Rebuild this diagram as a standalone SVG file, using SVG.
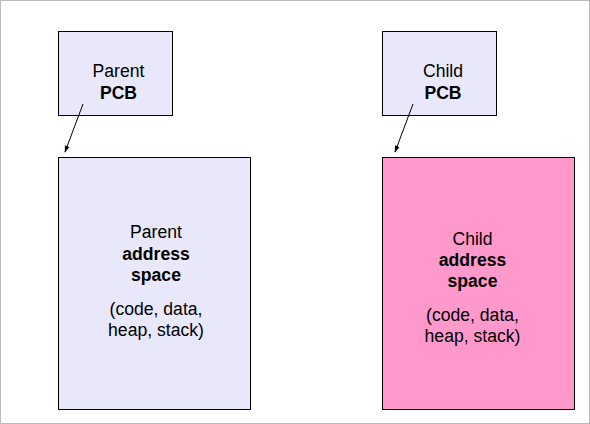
<svg xmlns="http://www.w3.org/2000/svg" width="590" height="424" viewBox="0 0 590 424">
<style>
.box{stroke:#000;stroke-width:1}
.pcb{fill:#e8e8fa}
.pink{fill:#ff99cc}
text{font-family:"Liberation Sans",Arial,sans-serif;font-size:17.6px;fill:#000;text-anchor:middle}
.b{font-weight:bold}
.conn{stroke:#000;stroke-width:1;fill:none}
</style>
<defs>
<marker id="ah" viewBox="0 0 10 10" refX="9" refY="5" markerWidth="7" markerHeight="7" orient="auto" markerUnits="userSpaceOnUse">
<path d="M0,1.5 L10,5 L0,8.5 z" fill="#000"/>
</marker>
</defs>
<rect x="0.5" y="0.5" width="589" height="423" fill="#fff" stroke="#bbb" stroke-width="1"/>
<g id="parent-pcb">
<rect class="box pcb" x="58.5" y="31.5" width="114" height="84"/>
<text x="118.5" y="77">Parent</text>
<text class="b" x="118.5" y="99">PCB</text>
</g>
<g id="child-pcb">
<rect class="box pcb" x="382.5" y="31.5" width="114" height="84"/>
<text x="443" y="77">Child</text>
<text class="b" x="443" y="99">PCB</text>
</g>
<g id="parent-space">
<rect class="box pcb" x="58.5" y="157.5" width="192" height="252"/>
<text x="156" y="238">Parent</text>
<text class="b" x="156" y="260">address</text>
<text class="b" x="156" y="281">space</text>
<text x="156" y="315">(code, data,</text>
<text x="156" y="336">heap, stack)</text>
</g>
<g id="child-space">
<rect class="box pink" x="382.5" y="157.5" width="192" height="252"/>
<text x="472.5" y="245">Child</text>
<text class="b" x="472.5" y="266">address</text>
<text class="b" x="472.5" y="287">space</text>
<text x="472.5" y="321">(code, data,</text>
<text x="472.5" y="342">heap, stack)</text>
</g>
<g id="connectors">
<line class="conn" x1="83" y1="104" x2="65" y2="152" marker-end="url(#ah)"/>
<line class="conn" x1="413" y1="104" x2="395" y2="152" marker-end="url(#ah)"/>
</g>
</svg>
